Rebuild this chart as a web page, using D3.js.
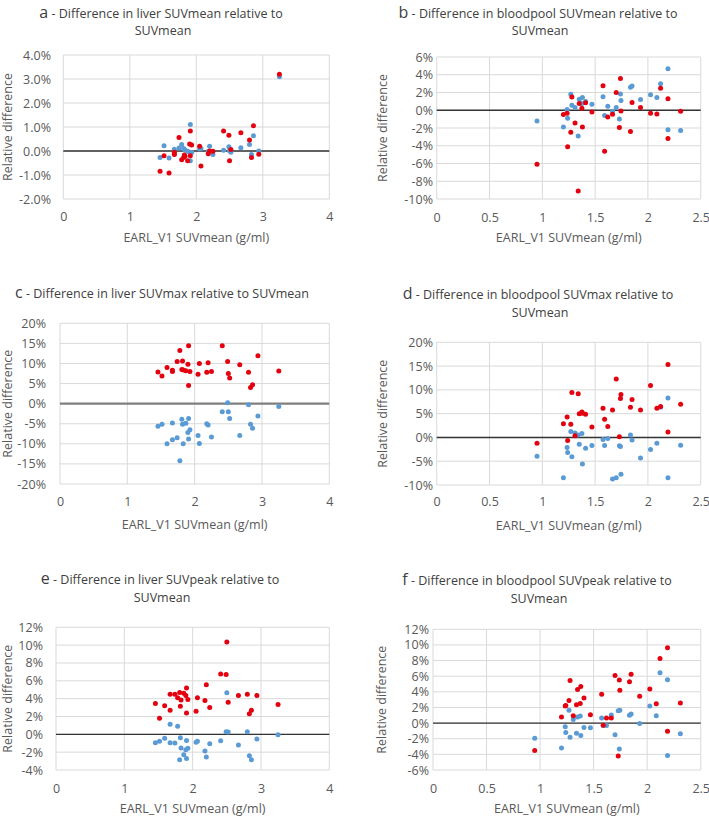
<!DOCTYPE html>
<html><head><meta charset="utf-8">
<script src="https://cdn.jsdelivr.net/npm/d3@7"></script>
<style>
html,body{margin:0;padding:0;background:#fff;}
svg{display:block;font-family:"Open Sans","Noto Sans",sans-serif;}
</style></head>
<body>
<svg id="c" width="709" height="818"></svg>
<script>
// ---------- data ----------
const liverX = [1.455,1.515,1.59,1.67,1.67,1.74,1.78,1.81,1.82,1.83,1.87,1.90,1.91,1.91,1.93,2.05,2.07,2.18,2.20,2.25,2.41,2.49,2.50,2.52,2.67,2.80,2.83,2.86,2.94,3.25];
const bloodX = [0.95,1.20,1.235,1.24,1.27,1.28,1.31,1.34,1.35,1.375,1.38,1.41,1.47,1.575,1.59,1.62,1.665,1.70,1.73,1.74,1.745,1.835,1.85,1.93,2.025,2.085,2.12,2.19,2.19,2.31];

// panel a: liver SUVmean (%)
const aRed  = [-0.84,-0.20,-0.92,-0.15,-0.05,0.56,-0.36,-0.27,-0.17,-0.22,-0.41,0.29,0.83,-0.20,0.25,0.20,-0.63,-0.11,0.00,-0.01,0.83,0.66,-0.41,0.06,0.76,0.46,-0.27,1.05,-0.14,3.20];
const aBlue = [-0.27,0.22,-0.29,0.07,-0.12,0.13,0.27,0.10,0.06,0.04,-0.01,-0.05,1.10,-0.41,-0.06,0.08,0.10,-0.02,0.20,-0.15,0.03,0.18,0.01,-0.05,0.14,0.27,-0.15,0.64,0.00,3.09];
// panel b: bloodpool SUVmean (%)
const bRed  = [-6.08,-0.49,-0.34,-4.10,-2.47,1.48,-1.44,-9.10,0.76,0.23,-1.90,0.85,-0.19,2.77,-4.63,-0.76,-0.46,2.01,-1.94,3.57,-0.08,-2.39,0.87,0.30,-0.34,-0.42,2.47,1.29,-3.19,-0.11];
const bBlue = [-1.20,-1.90,0.08,-0.90,1.80,0.57,0.30,-2.90,1.25,0.76,1.44,0.99,0.68,1.52,-0.60,0.46,-0.10,0.30,-0.99,1.82,1.10,2.58,2.73,1.20,1.75,1.44,3.00,4.67,-2.20,-2.28];
// panel c: liver SUVmax (%)
const cRed  = [7.9,6.9,9.0,8.0,8.3,10.5,13.2,8.5,10.6,8.4,8.2,9.8,14.4,4.5,8.0,7.3,10.0,7.8,10.2,8.0,14.4,10.5,7.5,6.4,9.7,7.8,4.0,4.7,11.9,8.1];
const cBlue = [-5.6,-5.1,-10.0,-4.8,-9.0,-8.5,-14.2,-3.9,-5.1,-10.0,-4.9,-7.2,-3.7,-8.8,-6.5,-7.9,-9.9,-5.0,-5.3,-8.3,-2.0,0.2,-2.0,-3.7,-7.9,-0.3,-5.1,-6.1,-3.1,-0.7];
// panel d: bloodpool SUVmax (%)
const dRed  = [-1.2,2.9,4.3,-0.63,2.75,9.44,0.35,9.2,5.0,5.35,5.07,4.86,2.18,6.13,3.8,2.32,5.77,12.3,0.14,8.17,9.0,6.34,8.0,5.77,10.9,6.13,6.48,15.35,1.13,6.97];
const dBlue = [-3.94,-8.45,-2.11,-3.17,1.27,-4.08,0.92,0.5,-1.41,0.85,-5.56,-2.25,-1.69,-0.42,-1.69,-0.21,-8.73,-8.5,-1.76,-1.9,-7.75,0.5,-0.56,-4.3,-2.54,-1.2,6.34,8.3,-8.45,-1.62];
// panel e: liver SUVpeak (%)
const eRed  = [3.45,1.8,3.2,4.5,2.7,4.5,4.1,4.7,3.15,3.85,4.6,4.35,5.2,2.4,3.9,2.6,4.1,3.8,5.55,3.0,6.75,6.7,10.35,3.6,4.35,4.5,2.3,2.7,4.35,3.35];
const eBlue = [-0.94,-0.79,-0.45,1.12,-0.94,-0.98,0.9,-2.85,-0.38,-1.54,-2.29,-1.72,-2.7,-0.68,-1.57,-0.9,-0.79,-1.87,-2.55,-1.05,-0.71,0.30,4.65,0.26,-1.2,0.30,-2.4,-2.85,-0.52,-0.04];
// panel f: bloodpool SUVpeak (%)
const fRed  = [-3.5,0.77,2.2,2.25,2.9,5.45,0.94,2.36,4.3,2.5,4.67,3.2,1.07,3.7,-0.26,0.64,0.64,6.1,-4.2,5.5,4.2,5.3,6.26,3.43,4.37,2.49,8.27,9.64,-1.03,2.57];
const fBlue = [-1.93,-3.2,-0.47,-1.2,1.63,-1.8,0.47,-1.29,0.77,0.9,-1.59,-0.56,-0.6,0.64,-0.3,-0.3,1.03,-1.5,1.59,-3.3,1.65,0.99,1.16,-0.04,2.19,0.94,6.43,5.53,-4.16,-1.37];

// tick labels
const liverXTicks = [0,1,2,3,4];
const bloodXTicks = [0,0.5,1,1.5,2,2.5];
const aYTicks = [-2,-1,0,1,2,3,4];
const bYTicks = [-10,-8,-6,-4,-2,0,2,4,6];
const cYTicks = [-20,-15,-10,-5,0,5,10,15,20];
const dYTicks = [-10,-5,0,5,10,15,20];
const eYTicks = [-4,-2,0,2,4,6,8,10,12];
const fYTicks = [-6,-4,-2,0,2,4,6,8,10,12];

const titles = [
  ["a"," - Difference in liver SUVmean relative to","SUVmean"],
  ["b"," - Difference in bloodpool SUVmean relative to","SUVmean"],
  ["c"," - Difference in liver SUVmax relative to SUVmean",null],
  ["d"," - Difference in bloodpool SUVmax relative to","SUVmean"],
  ["e"," - Difference in liver SUVpeak relative to","SUVmean"],
  ["f"," - Difference in bloodpool SUVpeak relative to","SUVmean"]
];
const xLabel = "EARL_V1 SUVmean (g/ml)";
const yLabel = "Relative difference";

// ---------- layout ----------
const panels = [
  {x:liverX, red:aRed, blue:aBlue, xt:liverXTicks, yt:aYTicks, fmt:d=>d.toFixed(1)+"%",
   L:63.3,R:329.3,T:55,B:199, tx:161, b1:17.5, b2:35, ylx:9, ytx:51, xty:217, xly:239, zc:"#333", zw:1.4},
  {x:bloodX, red:bRed, blue:bBlue, xt:bloodXTicks, yt:bYTicks, fmt:d=>d+"%",
   L:436.7,R:700.7,T:57,B:199, tx:538, b1:17.5, b2:35, ylx:384, ytx:433, xty:218, xly:239, zc:"#333", zw:1.4},
  {x:liverX, red:cRed, blue:cBlue, xt:liverXTicks, yt:cYTicks, fmt:d=>d+"%",
   L:60,R:329.3,T:323.3,B:484, tx:162, b1:298, b2:null, ylx:9, ytx:46, xty:502, xly:526, zc:"#7f7f7f", zw:2.2},
  {x:bloodX, red:dRed, blue:dBlue, xt:bloodXTicks, yt:dYTicks, fmt:d=>d+"%",
   L:436.7,R:700.7,T:342.3,B:485, tx:538, b1:299, b2:316.5, ylx:384, ytx:433, xty:502, xly:526.5, zc:"#333", zw:1.4},
  {x:liverX, red:eRed, blue:eBlue, xt:liverXTicks, yt:eYTicks, fmt:d=>d+"%",
   L:56,R:329.3,T:627.3,B:770, tx:160, b1:584, b2:601.5, ylx:9, ytx:43, xty:789, xly:810, zc:"#333", zw:1.4},
  {x:bloodX, red:fRed, blue:fBlue, xt:bloodXTicks, yt:fYTicks, fmt:d=>d+"%",
   L:433,R:700.7,T:629.3,B:770, tx:537, b1:585, b2:602.5, ylx:383, ytx:429, xty:789, xly:810, zc:"#333", zw:1.4}
];

const svg = d3.select("#c");
const RED = "#e3000f", BLUE = "#5b9bd5", GRID = "#d9d9d9", TXT = "#595959";

panels.forEach((p,i)=>{
  const xs = d3.scaleLinear().domain(d3.extent(p.xt)).range([p.L,p.R]);
  const ys = d3.scaleLinear().domain(d3.extent(p.yt)).range([p.B,p.T]);
  const g = svg.append("g");

  g.selectAll(".hg").data(p.yt).join("line")
    .attr("x1",p.L).attr("x2",p.R).attr("y1",d=>ys(d)).attr("y2",d=>ys(d))
    .attr("stroke",GRID).attr("stroke-width",1);
  g.selectAll(".vg").data(p.xt).join("line")
    .attr("y1",p.T).attr("y2",p.B).attr("x1",d=>xs(d)).attr("x2",d=>xs(d))
    .attr("stroke",GRID).attr("stroke-width",1);

  const ya = d3.axisLeft(ys).tickValues(p.yt).tickFormat(p.fmt).tickSize(0).tickPadding(0);
  const yg = g.append("g").attr("transform",`translate(${p.ytx},0)`).call(ya);
  yg.select(".domain").remove();
  yg.selectAll("text").attr("fill",TXT).style("font-size","12.5px").style("font-family","'Open Sans',sans-serif");

  const xa = d3.axisBottom(xs).tickValues(p.xt).tickFormat(d=>String(d)).tickSize(0).tickPadding(0);
  const xg = g.append("g").attr("transform",`translate(0,${p.xty})`).call(xa);
  xg.select(".domain").remove();
  xg.selectAll("text").attr("fill",TXT).attr("dy","0.35em").attr("y",0)
    .style("font-size","12.5px").style("font-family","'Open Sans',sans-serif");

  g.append("line").attr("x1",p.L).attr("x2",p.R).attr("y1",ys(0)).attr("y2",ys(0))
    .attr("stroke",p.zc).attr("stroke-width",p.zw);

  const blue = p.x.map((x,k)=>({x, y:p.blue[k]}));
  const red = p.x.map((x,k)=>({x, y:p.red[k]}));
  g.selectAll(".bp").data(blue).join("circle").attr("cx",d=>xs(d.x)).attr("cy",d=>ys(d.y))
    .attr("r",2.5).attr("fill",BLUE);
  g.selectAll(".rp").data(red).join("circle").attr("cx",d=>xs(d.x)).attr("cy",d=>ys(d.y))
    .attr("r",2.5).attr("fill",RED);

  const t = titles[i];
  const tt = g.append("text").attr("x",p.tx).attr("y",p.b1).attr("text-anchor","middle")
    .attr("fill","#404040").style("font-size","12.5px");
  tt.append("tspan").text(t[0]).style("font-size","16px");
  tt.append("tspan").text(t[1]);
  if (t[2]) g.append("text").attr("x",p.tx+2).attr("y",p.b2).attr("text-anchor","middle")
    .attr("fill","#404040").style("font-size","12.5px").text(t[2]);

  g.append("text").attr("x",(p.L+p.R)/2).attr("y",p.xly).attr("text-anchor","middle")
    .attr("dominant-baseline","middle").attr("fill",TXT).style("font-size","12.5px").text(xLabel);
  g.append("text").attr("transform",`translate(${p.ylx},${(p.T+p.B)/2}) rotate(-90)`)
    .attr("text-anchor","middle").attr("dominant-baseline","middle")
    .attr("fill",TXT).style("font-size","12.5px").text(yLabel);
});
</script>
</body></html>
